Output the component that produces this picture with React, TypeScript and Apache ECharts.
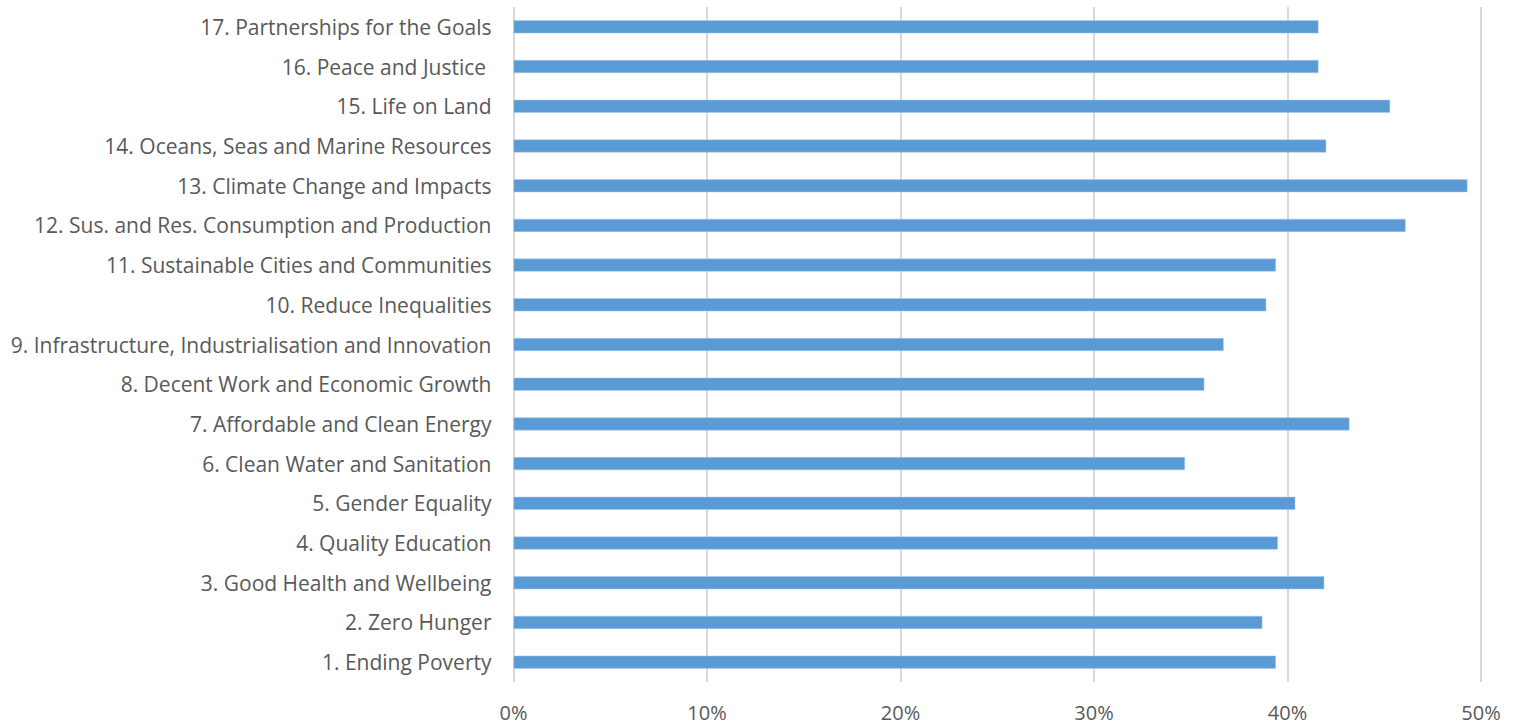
import React, { useEffect, useRef } from "react";
import * as echarts from "echarts";

const categories = [
  "1. Ending Poverty",
  "2. Zero Hunger",
  "3. Good Health and Wellbeing",
  "4. Quality Education",
  "5. Gender Equality",
  "6. Clean Water and Sanitation",
  "7. Affordable and Clean Energy",
  "8. Decent Work and Economic Growth",
  "9. Infrastructure, Industrialisation and Innovation",
  "10. Reduce Inequalities",
  "11. Sustainable Cities and Communities",
  "12. Sus. and Res. Consumption and Production",
  "13. Climate Change and Impacts",
  "14. Oceans, Seas and Marine Resources",
  "15. Life on Land",
  "16. Peace and Justice ",
  "17. Partnerships for the Goals",
];

const values = [
  0.394, 0.387, 0.419, 0.395, 0.404, 0.347, 0.432, 0.357, 0.367, 0.389, 0.394,
  0.461, 0.493, 0.42, 0.453, 0.416, 0.416,
];

const xTicks = [0, 0.1, 0.2, 0.3, 0.4, 0.5];

export default function App() {
  const ref = useRef<HTMLDivElement>(null);
  useEffect(() => {
    if (!ref.current) return;
    const chart = echarts.init(ref.current, null, { renderer: "svg" });
    chart.setOption({
      animation: false,
      backgroundColor: "#ffffff",
      grid: { left: 513.5, right: 39, top: 7, bottom: 44, containLabel: false },
      xAxis: {
        type: "value",
        min: xTicks[0],
        max: xTicks[xTicks.length - 1],
        interval: 0.1,
        axisLine: { show: false },
        axisTick: { show: false },
        splitLine: { show: true, lineStyle: { color: "#d9d9d9", width: 2 } },
        axisLabel: {
          formatter: (v: number) => `${Math.round(v * 100)}%`,
          color: "#595959",
          fontSize: 20,
          fontFamily: "Open Sans",
          margin: 20,
        },
      },
      yAxis: {
        type: "category",
        data: categories,
        axisLine: { show: false },
        axisTick: { show: false },
        axisLabel: {
          color: "#595959",
          fontSize: 21,
          fontFamily: "Open Sans",
          margin: 22,
        },
      },
      series: [
        {
          type: "bar",
          data: values,
          barWidth: 13,
          itemStyle: { color: "#5b9bd5", borderColor: "#a9c9ea", borderWidth: 0.5 },
        },
      ],
    });
    return () => chart.dispose();
  }, []);
  return <div ref={ref} style={{ width: 1520, height: 726, position: "absolute", left: 0, top: 0 }} />;
}
